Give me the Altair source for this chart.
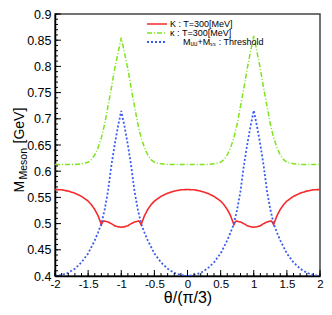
import altair as alt
import pandas as pd

# ---- data ----
series_names = ["K : T=300[MeV]", "κ : T=300[MeV]", "Mᵤᵤ+Mₛₛ : Threshold"]

red_x = [-2.0, -1.9, -1.8, -1.7, -1.6, -1.5, -1.45, -1.4, -1.35, -1.32, -1.3,
         -1.28, -1.26, -1.2, -1.15, -1.1, -1.05, -1.0, -0.95, -0.9, -0.85, -0.8,
         -0.74, -0.72, -0.7, -0.68, -0.65, -0.6, -0.55, -0.5, -0.4, -0.3, -0.2,
         -0.1, 0.0, 0.1, 0.2, 0.3, 0.4, 0.5, 0.55, 0.6, 0.65, 0.68, 0.7, 0.72,
         0.74, 0.8, 0.85, 0.9, 0.95, 1.0, 1.05, 1.1, 1.15, 1.2, 1.26, 1.28, 1.3,
         1.32, 1.35, 1.4, 1.45, 1.5, 1.6, 1.7, 1.8, 1.9, 2.0]
red_y = [0.565, 0.5645, 0.562, 0.558, 0.552, 0.543, 0.536, 0.527, 0.515, 0.505,
         0.498, 0.503, 0.505, 0.503, 0.500, 0.496, 0.494, 0.493, 0.494, 0.496,
         0.500, 0.503, 0.505, 0.503, 0.498, 0.505, 0.515, 0.527, 0.536, 0.543,
         0.552, 0.558, 0.562, 0.5645, 0.565, 0.5645, 0.562, 0.558, 0.552, 0.543,
         0.536, 0.527, 0.515, 0.505, 0.498, 0.503, 0.505, 0.503, 0.500, 0.496,
         0.494, 0.493, 0.494, 0.496, 0.500, 0.503, 0.505, 0.503, 0.498, 0.505,
         0.515, 0.527, 0.536, 0.543, 0.552, 0.558, 0.562, 0.5645, 0.565]

green_x = [-2.0, -1.9, -1.8, -1.7, -1.6, -1.55, -1.5, -1.45, -1.4, -1.35, -1.3,
           -1.25, -1.2, -1.15, -1.1, -1.05, -1.0, -0.95, -0.9, -0.85, -0.8, -0.75,
           -0.7, -0.65, -0.6, -0.55, -0.5, -0.45, -0.4, -0.3, -0.2, -0.1, 0.0,
           0.1, 0.2, 0.3, 0.4, 0.45, 0.5, 0.55, 0.6, 0.65, 0.7, 0.75, 0.8, 0.85,
           0.9, 0.95, 1.0, 1.05, 1.1, 1.15, 1.2, 1.25, 1.3, 1.35, 1.4, 1.45, 1.5,
           1.55, 1.6, 1.7, 1.8, 1.9, 2.0]
green_y = [0.613, 0.613, 0.613, 0.613, 0.614, 0.6155, 0.617, 0.622, 0.631, 0.645,
           0.664, 0.690, 0.724, 0.758, 0.795, 0.825, 0.855, 0.825, 0.795, 0.758,
           0.724, 0.690, 0.664, 0.645, 0.631, 0.622, 0.617, 0.6155, 0.614, 0.613,
           0.613, 0.613, 0.613, 0.613, 0.613, 0.613, 0.614, 0.6155, 0.617, 0.622,
           0.631, 0.645, 0.664, 0.690, 0.724, 0.758, 0.795, 0.827, 0.858, 0.827,
           0.795, 0.758, 0.724, 0.690, 0.664, 0.645, 0.631, 0.622, 0.617, 0.6155,
           0.614, 0.613, 0.613, 0.613, 0.613]

blue_x = [-2.0, -1.9, -1.8, -1.7, -1.6, -1.5, -1.4, -1.35, -1.3, -1.25, -1.2,
          -1.15, -1.1, -1.05, -1.0, -0.95, -0.9, -0.85, -0.8, -0.75, -0.7, -0.65,
          -0.6, -0.5, -0.4, -0.3, -0.2, -0.1, 0.0, 0.1, 0.2, 0.3, 0.4, 0.5, 0.6,
          0.65, 0.7, 0.75, 0.8, 0.85, 0.9, 0.95, 1.0, 1.05, 1.1, 1.15, 1.2, 1.25,
          1.3, 1.35, 1.4, 1.5, 1.6, 1.7, 1.8, 1.9, 2.0]
blue_y = [0.400, 0.402, 0.406, 0.414, 0.426, 0.443, 0.468, 0.483, 0.500, 0.527,
          0.562, 0.610, 0.650, 0.685, 0.715, 0.685, 0.650, 0.610, 0.562, 0.527,
          0.500, 0.483, 0.468, 0.443, 0.426, 0.414, 0.406, 0.402, 0.400, 0.402,
          0.406, 0.414, 0.426, 0.443, 0.468, 0.483, 0.500, 0.527, 0.562, 0.610,
          0.650, 0.685, 0.716, 0.685, 0.650, 0.610, 0.562, 0.527, 0.500, 0.483,
          0.468, 0.443, 0.426, 0.414, 0.406, 0.402, 0.400]

x_tick_values = [-2, -1.5, -1, -0.5, 0, 0.5, 1, 1.5, 2]
y_tick_values = [0.4, 0.45, 0.5, 0.55, 0.6, 0.65, 0.7, 0.75, 0.8, 0.85, 0.9]
x_minor = [round(-2 + 0.1 * i, 2) for i in range(41)]
y_minor = [round(0.4 + 0.01 * i, 3) for i in range(51)]

colors = ["#f52a2a", "#7ee31c", "#3b5cf2"]
dashes = [[1, 0], [5, 2, 1, 2], [2, 2]]
widths = [1.6, 1.5, 1.8]

TOTAL_W, TOTAL_H = 316, 298
FONT = "Liberation Sans"

xs = alt.Scale(domain=[-2, 2], nice=False, zero=False)
ys = alt.Scale(domain=[0.4, 0.9], nice=False, zero=False)

x_axis = alt.Axis(values=x_tick_values, labelExpr="'' + datum.value",
                  title="θ/(π/3)", titleFontSize=16, titleFont=FONT,
                  titleFontWeight="normal", titlePadding=0,
                  labelPadding=2, labelFontSize=11.5, ticks=False, tickSize=0,
                  domainColor="#000", domainWidth=1.5, grid=False,
                  labelFlush=False, labelOverlap=False)
y_axis = alt.Axis(values=y_tick_values, labelExpr="'' + datum.value",
                  title="", labelPadding=4, labelFontSize=12.5, ticks=False, tickSize=0,
                  domainColor="#000", domainWidth=1.5, grid=False,
                  labelFlush=False, labelOverlap=False)

layers = []
for name, xv, yv, c, d, w in zip(series_names, [red_x, green_x, blue_x],
                                 [red_y, green_y, blue_y], colors, dashes, widths):
    df = pd.DataFrame({"x": xv, "y": yv, "series": name})
    layers.append(
        alt.Chart(df).mark_line(color=c, strokeDash=d, strokeWidth=w, clip=True).encode(
            x=alt.X("x:Q", scale=xs, axis=x_axis),
            y=alt.Y("y:Q", scale=ys, axis=y_axis),
            order="x:Q",
        )
    )

# inward ticks
def xticks(vals, ln):
    return alt.Chart(pd.DataFrame({"x": vals})).mark_rule(color="#000", strokeWidth=1).encode(
        x=alt.X("x:Q", scale=xs, axis=x_axis),
        y=alt.value({"expr": "height"}), y2=alt.value({"expr": "height - %d" % ln}))

def yticks(vals, ln):
    return alt.Chart(pd.DataFrame({"y": vals})).mark_rule(color="#000", strokeWidth=1).encode(
        y=alt.Y("y:Q", scale=ys, axis=y_axis), x=alt.value(0), x2=alt.value(ln))

layers += [xticks(x_minor, 3), xticks(x_tick_values, 6),
           yticks(y_minor, 3), yticks(y_tick_values, 6)]

one = pd.DataFrame({"a": [0]})

# legend (manual)
leg_x0, leg_x1, leg_tx = 92, 112, 115
leg_rows = [10, 19, 28]
leg_text_x = [leg_tx, leg_tx, leg_tx + 13]
for name, c, d, w, ry, tx in zip(series_names, colors, dashes, widths, leg_rows, leg_text_x):
    layers.append(alt.Chart(one).mark_rule(color=c, strokeDash=d, strokeWidth=w).encode(
        x=alt.value(leg_x0), x2=alt.value(leg_x1), y=alt.value(ry)))
    layers.append(alt.Chart(one).mark_text(text=name, font=FONT, fontSize=9, align="left",
                                           baseline="middle", color="#000").encode(
        x=alt.value(tx), y=alt.value(ry)))

# y-axis title with subscript
title_parts = [("M", 14, -31, 47.5), ("Meson", 10.5, -28.5, 34.5), ("[GeV]", 14, -31, -1.5)]
for txt, fs, bx, dy in title_parts:
    layers.append(alt.Chart(one).mark_text(text=txt, font=FONT, fontSize=fs, angle=270,
                                           align="left", baseline="alphabetic",
                                           color="#000").encode(
        x=alt.value(bx), y=alt.value({"expr": "height / 2 + (%s)" % dy})))

chart = alt.layer(*layers).properties(
    width=TOTAL_W, height=TOTAL_H,
    padding={"left": 5, "top": 0, "right": 0, "bottom": 0},
    autosize=alt.AutoSizeParams(type="fit", contains="padding")).configure_view(
    stroke="#444", strokeWidth=1.5).configure_axis(
    labelFont=FONT, labelColor="#000", titleColor="#000")

chart.save("out.html", embed_options={"renderer": "svg", "actions": False})
